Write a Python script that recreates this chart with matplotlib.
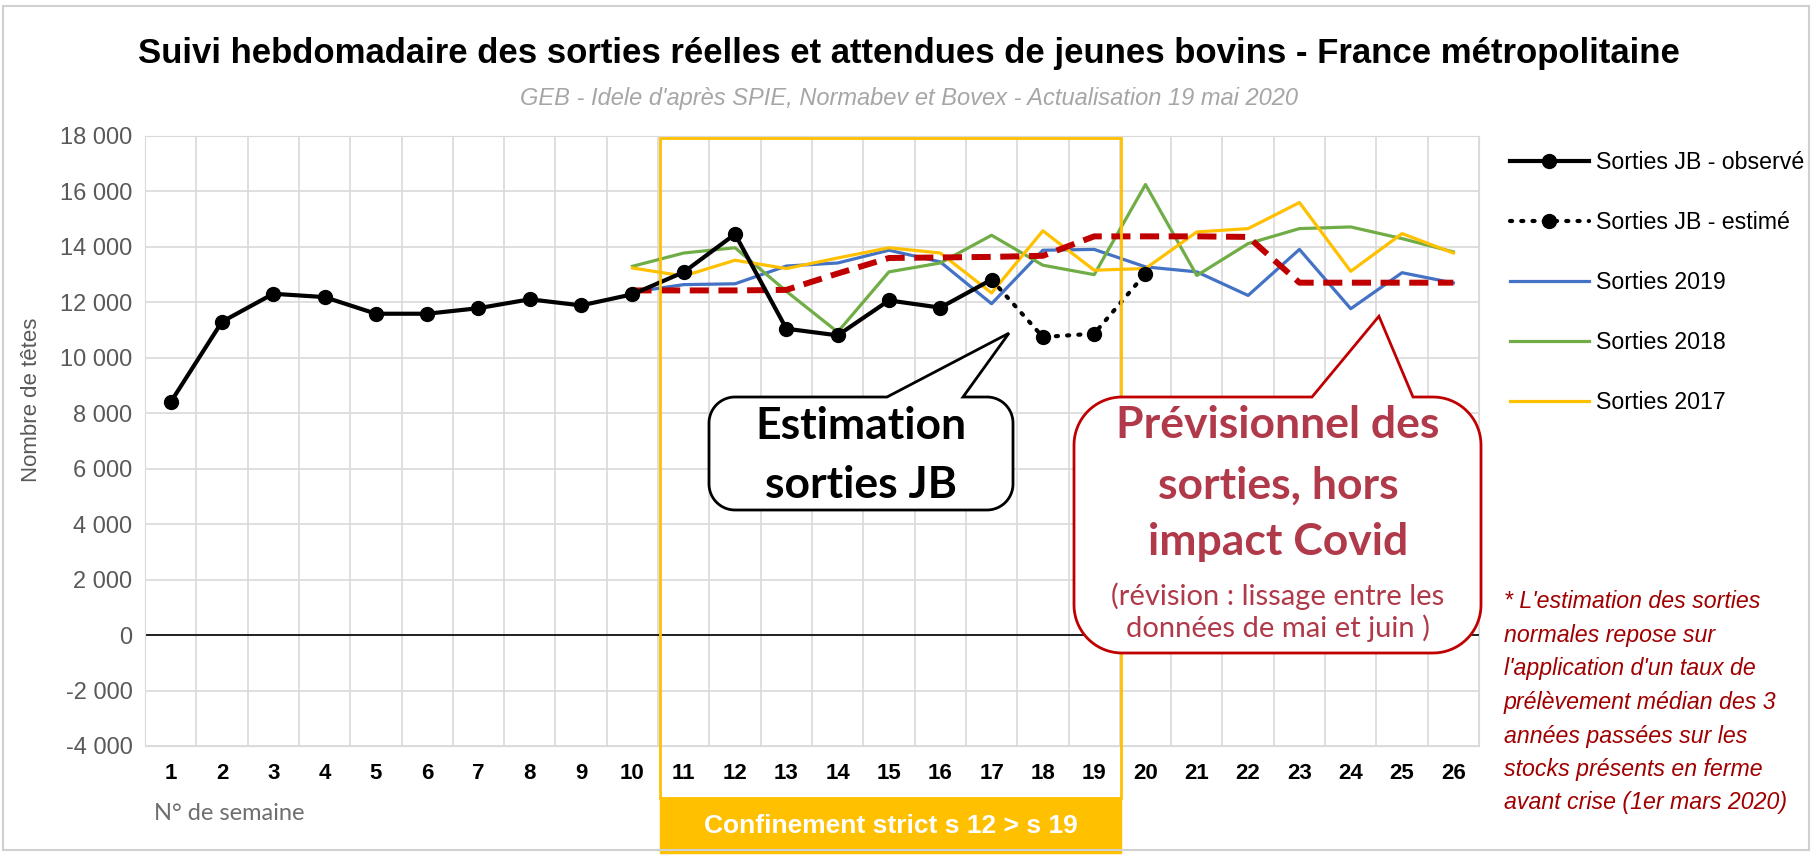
import numpy as np
import matplotlib
matplotlib.use("Agg")
import matplotlib.pyplot as plt
from matplotlib.path import Path
from matplotlib.patches import PathPatch, Rectangle
from matplotlib.lines import Line2D
from matplotlib.ticker import FuncFormatter, MultipleLocator
import matplotlib.transforms as mtransforms

W, H = 1818, 856

# données
weeks = list(range(1, 27))
obs_weeks = list(range(1, 18))
obs_values = [8400, 11300, 12310, 12190, 11590, 11590, 11790, 12110, 11890, 12290,
              13090, 14460, 11050, 10810, 12070, 11810, 12820]
est_weeks = [17, 18, 19, 20]
est_values = [12820, 10750, 10870, 13040]
yr_weeks = list(range(10, 27))
s2019 = [12370, 12640, 12670, 13310, 13420, 13880, 13460, 11950, 13880, 13910,
         13280, 13100, 12250, 13910, 11770, 13070, 12700]
s2018 = [13300, 13780, 13970, 12400, 10930, 13100, 13420, 14420, 13340, 13000,
         16250, 12970, 14120, 14660, 14720, 14300, 13820]
s2017 = [13240, 12950, 13520, 13220, 13600, 13970, 13780, 12340, 14580, 13160,
         13220, 14540, 14660, 15600, 13120, 14480, 13780]
prev = [12430, 12430, 12430, 12450, 13040, 13600, 13620, 13640, 13680, 14380,
        14380, 14380, 14360, 12710, 12710, 12710, 12710]

SANS = ["Liberation Sans", "DejaVu Sans"]
CAL = ["Lato", "DejaVu Sans"]
ORANGE = "#FFC000"
RED_TXT = "#B0394A"

def fx(x):
    return x / W

def fy(y):
    return 1 - y / H

fig = plt.figure(figsize=(W / 100, H / 100), dpi=100)
fig.patch.set_facecolor("white")
fig.add_artist(Rectangle((fx(3), fy(850)), fx(1806), 844 / H, transform=fig.transFigure,
                         fill=False, edgecolor="#D0D0D0", lw=1.5))

ax = fig.add_axes([fx(145), fy(746), (1479 - 145) / W, (746 - 136) / H])
ax.set_xlim(0.5, 26.5)
ax.set_ylim(-4000, 18000)

# grille
ax.yaxis.set_major_locator(MultipleLocator(2000))
ax.set_xticks(weeks)
ax.set_xticks(np.arange(0.5, 27, 1), minor=True)
ax.grid(True, which="major", axis="y", color="#D9D9D9", lw=1.2)
ax.grid(True, which="minor", axis="x", color="#D9D9D9", lw=1.2)
ax.set_axisbelow(True)
for s in ax.spines.values():
    s.set_color("#D9D9D9")
ax.tick_params(which="both", length=0)
ax.tick_params(axis="x", pad=12)
ax.tick_params(axis="y", pad=9)
ax.yaxis.set_major_formatter(FuncFormatter(lambda v, p: f"{int(v):,}".replace(",", " ")))
for lb in ax.get_yticklabels():
    lb.set_family(SANS)
    lb.set_fontsize(17)
    lb.set_color("#595959")
for lb in ax.get_xticklabels():
    lb.set_family(SANS)
    lb.set_fontsize(16)
    lb.set_fontweight("bold")
ax.axhline(0, color="black", lw=1.2, zorder=2)

# séries
ax.plot(yr_weeks, s2019, color="#4472C4", lw=2.3, zorder=3, label="Sorties 2019")
ax.plot(yr_weeks, s2018, color="#70AD47", lw=2.3, zorder=3, label="Sorties 2018")
ax.plot(yr_weeks, s2017, color=ORANGE, lw=2.3, zorder=3, label="Sorties 2017")
ax.plot(yr_weeks, prev, color="#C00000", lw=4.3, ls=(0, (3.2, 1.6)), zorder=4)
ax.plot(est_weeks, est_values, color="black", lw=3, ls=(0, (0.5, 2.2)),
        dash_capstyle="round", zorder=5)
ax.plot(est_weeks[1:], est_values[1:], ls="none", marker="o", color="black", ms=10, zorder=5)
ax.plot(obs_weeks, obs_values, color="black", lw=3, marker="o", ms=10, zorder=6)

# cadre confinement
blend = mtransforms.blended_transform_factory(ax.transData, fig.transFigure)
ax.add_patch(Rectangle((10.53, fy(798)), 9.0, (798 - 138) / H, transform=blend,
                       fill=False, edgecolor=ORANGE, lw=2, zorder=7, clip_on=False))
ax.add_patch(Rectangle((10.53, fy(853)), 9.0, (853 - 798) / H, transform=blend,
                       facecolor=ORANGE, edgecolor=ORANGE, lw=1, zorder=7, clip_on=False))
ax.text(15.03, fy(826), "Confinement strict s 12 > s 19", transform=blend, ha="center",
        va="center", color="white", fontweight="bold", fontsize=19, family=SANS, zorder=8)

# titres
fig.text(fx(909), fy(54), "Suivi hebdomadaire des sorties réelles et attendues de jeunes bovins - France métropolitaine",
         ha="center", va="center", fontsize=25, fontweight="bold", family=SANS)
fig.text(fx(909), fy(99), "GEB - Idele d'après SPIE, Normabev et Bovex - Actualisation 19 mai 2020",
         ha="center", va="center", fontsize=17, style="italic", color="#A6A6A6", family=SANS)
fig.text(fx(32), fy(400), "Nombre de têtes", rotation=90, ha="center", va="center",
         fontsize=16, color="#595959", family=SANS)
fig.text(fx(154), fy(813), "N° de semaine", ha="left", va="center",
         fontsize=17, color="#6E6E6E", family=CAL)

# légende
handles = [
    Line2D([], [], color="black", lw=3, marker="o", ms=10),
    Line2D([], [], color="black", lw=3, ls=(0, (0.5, 2.2)), dash_capstyle="round", marker="o", ms=10),
    Line2D([], [], color="#4472C4", lw=2.3),
    Line2D([], [], color="#70AD47", lw=2.3),
    Line2D([], [], color=ORANGE, lw=2.3),
]
labels = ["Sorties JB - observé", "Sorties JB - estimé", "Sorties 2019", "Sorties 2018", "Sorties 2017"]
fig.legend(handles, labels, loc="upper left", bbox_to_anchor=(fx(1489), fy(130)),
           frameon=False, prop={"family": SANS, "size": 16.7},
           handlelength=3.4, labelspacing=1.6, handletextpad=0.3, markerscale=1)

# bulles
def callout(x0, y0, x1, y1, r, b0, b1, tip):
    def arc(cx, cy, a0, a1):
        t = np.radians(np.linspace(a0, a1, 20))
        return list(zip(cx + r * np.cos(t), cy + r * np.sin(t)))
    pts = [(x0 + r, y0), (b0, y0), tip, (b1, y0), (x1 - r, y0)]
    pts += arc(x1 - r, y0 + r, -90, 0)
    pts += arc(x1 - r, y1 - r, 0, 90)
    pts += arc(x0 + r, y1 - r, 90, 180)
    pts += arc(x0 + r, y0 + r, 180, 270)
    return Path([(fx(px), fy(py)) for px, py in pts], closed=False)

def data_px(x, y):
    dx, dy = ax.transData.transform((x, y))
    return (dx, H - dy)

tip_est = data_px(17.34, 10890)
tip_prev = data_px(24.55, 11500)
fig.add_artist(PathPatch(callout(709, 397, 1013, 510, 26, 887, 963, tip_est),
                         transform=fig.transFigure, facecolor="white", edgecolor="black",
                         lw=2, zorder=10))
fig.add_artist(PathPatch(callout(1074, 397, 1481, 653, 48, 1312, 1413, tip_prev),
                         transform=fig.transFigure, facecolor="white", edgecolor="#C00000",
                         lw=2, zorder=10))
for y, s in [(426, "Estimation"), (485, "sorties JB")]:
    fig.text(fx(861), fy(y), s, ha="center", va="center", fontsize=32, fontweight="bold",
             family=CAL, zorder=11)
for y, s in [(425, "Prévisionnel des"), (486, "sorties, hors"), (542, "impact Covid")]:
    fig.text(fx(1278), fy(y), s, ha="center", va="center", fontsize=32, fontweight="bold",
             color=RED_TXT, family=CAL, zorder=11)
for y, s in [(596, "(révision : lissage entre les"), (628, "données de mai et juin )")]:
    fig.text(fx(1278), fy(y), s, ha="center", va="center", fontsize=21,
             color=RED_TXT, family=CAL, zorder=11)

note = ["* L'estimation des sorties", "normales repose sur", "l'application d'un taux de",
        "prélèvement médian des 3", "années passées sur les", "stocks présents en ferme",
        "avant crise (1er mars 2020)"]
for i, s in enumerate(note):
    fig.text(fx(1504), fy(602 + i * 33.5), s, ha="left", va="center", fontsize=16.7,
             style="italic", color="#A00000", family=SANS)

fig.savefig("out.png", dpi=100)
